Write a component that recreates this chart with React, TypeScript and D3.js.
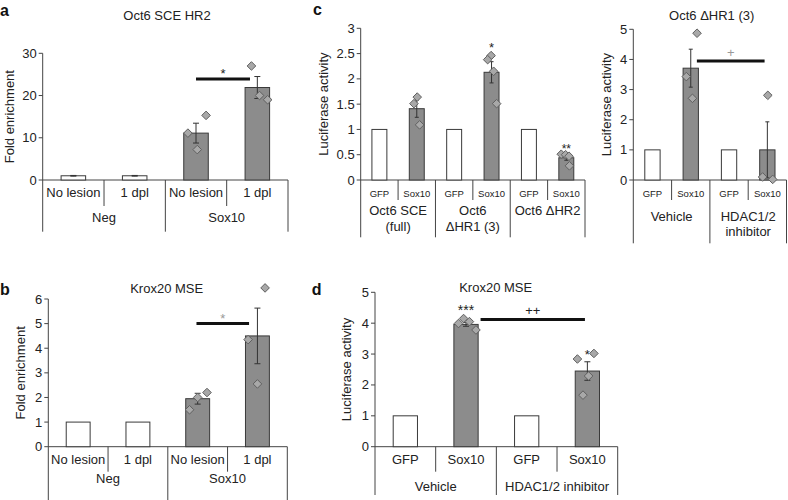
import React from "react";
import * as d3 from "d3";

const FONT = "'Liberation Sans', Arial, Helvetica, sans-serif";

// ---------- Panel a: Oct6 SCE HR2 (ChIP) ----------
const aTitle = "Oct6 SCE HR2";
const aYLabel = "Fold enrichment";
const aCats = ["No lesion", "1 dpl", "No lesion", "1 dpl"];
const aGroups = ["Neg", "Sox10"];
const aGroupSpan = [2, 2];
const aTicks = [0, 10, 20, 30];
const aMeans = [1, 1, 11.1, 21.9];
const aErrs = [0.08, 0.08, 2.35, 2.6];
const aPoints = [[], [], [11.1, 15.3, 7.2], [27.0, 20.0, 19.0]];

// ---------- Panel b: Krox20 MSE (ChIP) ----------
const bTitle = "Krox20 MSE";
const bYLabel = "Fold enrichment";
const bCats = ["No lesion", "1 dpl", "No lesion", "1 dpl"];
const bGroups = ["Neg", "Sox10"];
const bGroupSpan = [2, 2];
const bTicks = [0, 1, 2, 3, 4, 5, 6];
const bMeans = [1, 1, 1.95, 4.5];
const bErrs = [0, 0, 0.22, 1.13];
const bPoints = [[], [], [1.5, 2.0, 2.2], [6.45, 4.35, 2.55]];

// ---------- Panel c (left): luciferase constructs ----------
const cYLabel = "Luciferase activity";
const cCats = ["GFP", "Sox10", "GFP", "Sox10", "GFP", "Sox10"];
const cGroups = [["Oct6 SCE", "(full)"], ["Oct6", "\u0394HR1 (3)"], ["Oct6 \u0394HR2"]];
const cGroupSpan = [2, 2, 2];
const cTicks = [0, 0.5, 1, 1.5, 2, 2.5, 3];
const cMeans = [1, 1.41, 1, 2.13, 1, 0.44];
const cErrs = [0, 0.17, 0, 0.21, 0, 0.05];
const cPoints = [[], [1.64, 1.51, 1.09], [], [2.46, 2.38, 2.15, 1.51], [], [0.51, 0.5, 0.47, 0.28]];

// ---------- Panel c (right): Oct6 ΔHR1 (3) + HDAC inhibitor ----------
const crTitle = "Oct6 \u0394HR1 (3)";
const crYLabel = "Luciferase activity";
const crCats = ["GFP", "Sox10", "GFP", "Sox10"];
const crGroups = [["Vehicle"], ["HDAC1/2", "inhibitor"]];
const crGroupSpan = [2, 2];
const crTicks = [0, 1, 2, 3, 4, 5];
const crMeans = [1, 3.71, 1, 1.0];
const crErrs = [0, 0.63, 0, 0.93];
const crPoints = [[], [4.87, 3.43, 2.71], [], [2.81, 0.1, 0.02]];

// ---------- Panel d: Krox20 MSE luciferase ----------
const dTitle = "Krox20 MSE";
const dYLabel = "Luciferase activity";
const dCats = ["GFP", "Sox10", "GFP", "Sox10"];
const dGroups = [["Vehicle"], ["HDAC1/2 inhibitor"]];
const dGroupSpan = [2, 2];
const dTicks = [0, 1, 2, 3, 4, 5];
const dMeans = [1, 3.96, 1, 2.45];
const dErrs = [0, 0.06, 0, 0.3];
const dPoints = [[], [3.99, 4.15, 4.05, 3.78], [], [2.84, 3.02, 2.29, 1.67]];

// ---------- layout (positions / styles) ----------
type Sig = { from: number; fromOff: number; to: number; toOff: number; y: number; label: string; labelY: number; color: string; fs: number };
type Star = { bar: number; y: number; label: string; fs: number };

type Spec = {
  letter: string; letterX: number; letterY: number;
  title?: string; titleX?: number; titleY?: number;
  yLabel: string; yLabelX: number;
  x0: number; x1: number; yZero: number; yTop: number; yMax: number;
  ticks: number[];
  cats: string[]; groups: (string | string[])[]; groupSpan: number[];
  means: number[]; errs: number[]; points: number[][];
  jitter: number[][];
  catFs: number; groupFs: number; rows: number[];
  shortEnd: number; longEnd: number; capW: number;
  sigs: Sig[]; stars: Star[];
};

const specs: Spec[] = [
  {
    letter: "a", letterX: 0, letterY: 16,
    title: aTitle, titleX: 167, titleY: 15,
    yLabel: aYLabel, yLabelX: 9,
    x0: 42.7, x1: 288, yZero: 180, yTop: 53.3, yMax: 30, ticks: aTicks,
    cats: aCats, groups: aGroups, groupSpan: aGroupSpan,
    means: aMeans, errs: aErrs, points: aPoints,
    jitter: [[], [], [-0.33, 0.41, 0.05], [-0.24, 0.09, 0.42]],
    catFs: 13, groupFs: 13, rows: [192, 217], shortEnd: 206, longEnd: 231.7, capW: 6,
    sigs: [{ from: 2, fromOff: 0, to: 3, toOff: -0.3, y: 23.9, label: "*", labelY: 25.9, color: "#222", fs: 13 }],
    stars: [],
  },
  {
    letter: "b", letterX: 0, letterY: 295,
    title: bTitle, titleX: 166.7, titleY: 288,
    yLabel: bYLabel, yLabelX: 20.7,
    x0: 48.3, x1: 287.3, yZero: 446.7, yTop: 299, yMax: 6, ticks: bTicks,
    cats: bCats, groups: bGroups, groupSpan: bGroupSpan,
    means: bMeans, errs: bErrs, points: bPoints,
    jitter: [[], [], [-0.34, 0, 0.39], [0.32, -0.39, 0]],
    catFs: 13, groupFs: 13, rows: [459.3, 478.3], shortEnd: 471.7, longEnd: 500, capW: 6,
    sigs: [{ from: 2, fromOff: -0.05, to: 3, toOff: -0.35, y: 5.0, label: "*", labelY: 5.33, color: "#999", fs: 13 }],
    stars: [],
  },
  {
    letter: "c", letterX: 313, letterY: 15,
    yLabel: cYLabel, yLabelX: 323.3,
    x0: 360.7, x1: 585, yZero: 180, yTop: 28.3, yMax: 3, ticks: cTicks,
    cats: cCats, groups: cGroups, groupSpan: cGroupSpan,
    means: cMeans, errs: cErrs, points: cPoints,
    jitter: [[], [0.03, -0.19, 0.19], [], [-0.03, -0.26, 0.14, 0.34], [], [-0.34, -0.05, 0.18, 0.21]],
    catFs: 9.5, groupFs: 13, rows: [193.3, 210, 226.7], shortEnd: 200, longEnd: 237.3, capW: 4,
    sigs: [],
    stars: [{ bar: 3, y: 2.69, label: "*", fs: 13 }, { bar: 5, y: 0.68, label: "**", fs: 12 }],
  },
  {
    letter: "", letterX: 0, letterY: 0,
    title: crTitle, titleX: 711.7, titleY: 15,
    yLabel: crYLabel, yLabelX: 606.7,
    x0: 633.3, x1: 786.5, yZero: 180, yTop: 29.3, yMax: 5, ticks: crTicks,
    cats: crCats, groups: crGroups, groupSpan: crGroupSpan,
    means: crMeans, errs: crErrs, points: crPoints,
    jitter: [[], [0.41, -0.29, 0.11], [], [0.03, -0.31, 0.35]],
    catFs: 9.5, groupFs: 13, rows: [193.3, 216.7, 231.7], shortEnd: 200, longEnd: 243.3, capW: 4,
    sigs: [{ from: 1, fromOff: 0.4, to: 3, toOff: -0.18, y: 3.95, label: "+", labelY: 4.25, color: "#999", fs: 13 }],
    stars: [],
  },
  {
    letter: "d", letterX: 311.7, letterY: 295,
    title: dTitle, titleX: 495.7, titleY: 287.7,
    yLabel: dYLabel, yLabelX: 346.7,
    x0: 375, x1: 617.7, yZero: 446.7, yTop: 292.3, yMax: 5, ticks: dTicks,
    cats: dCats, groups: dGroups, groupSpan: dGroupSpan,
    means: dMeans, errs: dErrs, points: dPoints,
    jitter: [[], [-0.31, -0.1, 0.14, 0.41], [], [-0.41, 0.27, 0.05, -0.18]],
    catFs: 13, groupFs: 13, rows: [459.3, 486.7], shortEnd: 471.7, longEnd: 495, capW: 6,
    sigs: [{ from: 1, fromOff: 0.6, to: 3, toOff: -0.1, y: 4.12, label: "++", labelY: 4.42, color: "#222", fs: 13 }],
    stars: [{ bar: 1, y: 4.53, label: "***", fs: 14 }, { bar: 3, y: 3.1, label: "*", fs: 13 }],
  },
];

const AXIS = "#444";
const TEXT = "#222";
const BAR_GRAY = "#8c8c8c";
const BAR_STROKE = "#3a3a3a";
const DIAMOND_R = 4.3;

function glyphShift(label: string, fs: number) {
  // convert a visual centre into a baseline position
  if (label.startsWith("+")) return fs * 0.36;
  return fs * 0.58;
}

function Panel({ s }: { s: Spec }) {
  const n = s.cats.length;
  const x = d3.scaleBand<number>().domain(d3.range(n)).range([s.x0, s.x1]).padding(0);
  const y = d3.scaleLinear().domain([0, s.yMax]).range([s.yZero, s.yTop]);
  const step = x.step();
  const bw = step * 0.4;
  const cx = (i: number) => (x(i) as number) + step / 2;
  const dp = d3.path();
  dp.moveTo(0, -DIAMOND_R);
  dp.lineTo(DIAMOND_R, 0);
  dp.lineTo(0, DIAMOND_R);
  dp.lineTo(-DIAMOND_R, 0);
  dp.closePath();
  const diamond = dp.toString();

  const bounds: number[] = [0];
  s.groupSpan.forEach((sp) => bounds.push(bounds[bounds.length - 1] + sp));
  const edge = (k: number) => (k >= n ? s.x1 : (x(k) as number));

  const elements: React.ReactNode[] = [];

  if (s.letter)
    elements.push(
      <text key="letter" x={s.letterX} y={s.letterY} fontSize={16} fontWeight="bold" fill="#111" fontFamily={FONT}>
        {s.letter}
      </text>
    );
  if (s.title)
    elements.push(
      <text key="title" x={s.titleX} y={s.titleY} dy="0.35em" textAnchor="middle" fontSize={13} fill={TEXT} fontFamily={FONT}>
        {s.title}
      </text>
    );
  const ymid = (s.yZero + s.yTop) / 2;
  elements.push(
    <text
      key="ylab"
      transform={`translate(${s.yLabelX},${ymid}) rotate(-90)`}
      dy="0.35em"
      textAnchor="middle"
      fontSize={13}
      fill={TEXT}
      fontFamily={FONT}
    >
      {s.yLabel}
    </text>
  );

  elements.push(<line key="yax" x1={s.x0} x2={s.x0} y1={s.yTop} y2={s.longEnd} stroke={AXIS} strokeWidth={1} />);
  s.ticks.forEach((t, i) => {
    elements.push(<line key={"tk" + i} x1={s.x0 - 4} x2={s.x0} y1={y(t)} y2={y(t)} stroke={AXIS} strokeWidth={1} />);
    elements.push(
      <text key={"tl" + i} x={s.x0 - 6} y={y(t)} dy="0.35em" textAnchor="end" fontSize={13} fill={TEXT} fontFamily={FONT}>
        {String(t)}
      </text>
    );
  });
  elements.push(<line key="xax" x1={s.x0} x2={s.x1} y1={s.yZero} y2={s.yZero} stroke={AXIS} strokeWidth={1} />);

  for (let k = 1; k <= n; k++) {
    const isGroupEdge = bounds.includes(k);
    elements.push(
      <line
        key={"dv" + k}
        x1={edge(k)}
        x2={edge(k)}
        y1={s.yZero}
        y2={isGroupEdge ? s.longEnd : s.shortEnd}
        stroke={AXIS}
        strokeWidth={1}
      />
    );
  }

  s.cats.forEach((c, i) => {
    elements.push(
      <text key={"cl" + i} x={cx(i)} y={s.rows[0]} dy="0.35em" textAnchor="middle" fontSize={s.catFs} fill={TEXT} fontFamily={FONT}>
        {c}
      </text>
    );
  });
  s.groups.forEach((g, gi) => {
    const lines = Array.isArray(g) ? g : [g];
    const gx = (edge(bounds[gi]) + edge(bounds[gi + 1])) / 2;
    lines.forEach((ln, li) => {
      elements.push(
        <text key={`gl${gi}-${li}`} x={gx} y={s.rows[1 + li]} dy="0.35em" textAnchor="middle" fontSize={s.groupFs} fill={TEXT} fontFamily={FONT}>
          {ln}
        </text>
      );
    });
  });

  s.means.forEach((m, i) => {
    const filled = s.points[i].length > 0;
    elements.push(
      <rect
        key={"bar" + i}
        x={cx(i) - bw / 2}
        y={y(m)}
        width={bw}
        height={s.yZero - y(m)}
        fill={filled ? BAR_GRAY : "#fff"}
        stroke={BAR_STROKE}
        strokeWidth={1}
      />
    );
  });
  s.means.forEach((m, i) => {
    const e = s.errs[i];
    if (!e) return;
    const hi = y(m + e);
    const lo = y(Math.max(0, m - e));
    const c = cx(i);
    elements.push(
      <g key={"err" + i} stroke="#333" strokeWidth={1}>
        <line x1={c} x2={c} y1={hi} y2={lo} />
        <line x1={c - s.capW / 2} x2={c + s.capW / 2} y1={hi} y2={hi} />
        <line x1={c - s.capW / 2} x2={c + s.capW / 2} y1={lo} y2={lo} />
      </g>
    );
  });
  s.points.forEach((pts, i) => {
    pts.forEach((v, j) => {
      const px = cx(i) + (s.jitter[i][j] || 0) * bw;
      elements.push(
        <path
          key={`pt${i}-${j}`}
          d={diamond}
          transform={`translate(${px},${y(v)})`}
          fill="#a8a8a8"
          stroke="#606060"
          strokeWidth={1}
        />
      );
    });
  });

  s.sigs.forEach((g, k) => {
    const xa = cx(g.from) + g.fromOff * bw;
    const xb = cx(g.to) + g.toOff * bw;
    elements.push(<line key={"sg" + k} x1={xa} x2={xb} y1={y(g.y)} y2={y(g.y)} stroke="#111" strokeWidth={3} />);
    elements.push(
      <text key={"sgl" + k} x={(xa + xb) / 2} y={y(g.labelY) + glyphShift(g.label, g.fs)} textAnchor="middle" fontSize={g.fs} fill={g.color} fontFamily={FONT}>
        {g.label}
      </text>
    );
  });
  s.stars.forEach((st, k) => {
    elements.push(
      <text key={"st" + k} x={cx(st.bar)} y={y(st.y) + glyphShift(st.label, st.fs)} textAnchor="middle" fontSize={st.fs} fill={TEXT} fontFamily={FONT}>
        {st.label}
      </text>
    );
  });

  return <g>{elements}</g>;
}

export default function App() {
  return (
    <svg
      width={788}
      height={500}
      viewBox="0 0 788 500"
      style={{ position: "absolute", left: 0, top: 0, background: "#fff" }}
    >
      <rect x={0} y={0} width={788} height={500} fill="#fff" />
      {specs.map((s, i) => (
        <Panel key={i} s={s} />
      ))}
    </svg>
  );
}
